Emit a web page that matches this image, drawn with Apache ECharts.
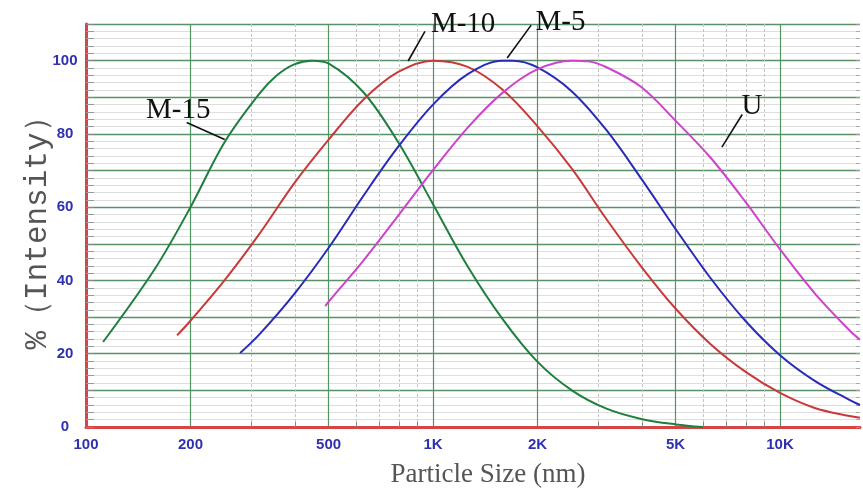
<!DOCTYPE html>
<html>
<head>
<meta charset="utf-8">
<script src="https://cdn.jsdelivr.net/npm/echarts@6/dist/echarts.min.js"></script>
<style>html,body{margin:0;padding:0;background:#fff}#c{width:863px;height:493px}</style>
</head>
<body>
<div id="c"></div>
<script>
// ---- data (x in nm, y in % intensity) ----
const xMajor = [200, 500, 1000, 2000, 5000, 10000];
const xMinor = [300, 400, 600, 700, 800, 900, 3000, 4000, 6000, 7000, 8000, 9000];
const xLabels = [100, 200, 500, 1000, 2000, 5000, 10000];
const yLabels = [0, 20, 40, 60, 80, 100];

const m15 = [[112,23.2],[158,43.2],[200,60],[251,77.8],[316,91],[355,96],[398,99],[447,100],[501,99.2],[631,91.3],[794,77.7],[1000,60.8],[1259,43.8],[1585,29.5],[1995,17.9],[2512,10],[3162,5],[3981,2.2],[5012,0.7],[6000,0]];
const m10 = [[183,25],[200,29],[251,40.1],[316,52.7],[398,66.5],[501,78.5],[631,89.4],[794,96.9],[1000,100],[1259,98.3],[1585,92.1],[1995,82.2],[2512,70.5],[3162,56.7],[3981,43.8],[5012,32.2],[6310,22.6],[7943,15.1],[10000,9.3],[12589,5.2],[15849,3],[17000,2.5]];
const m5 = [[278,20.2],[316,25.3],[398,36.3],[501,49],[631,63.2],[794,76.5],[1000,88],[1259,96.3],[1585,100],[1700,100],[1995,98.2],[2512,91.6],[3162,81],[3981,67.8],[5012,53.9],[6310,40.6],[7943,29],[10000,19.6],[12589,12.6],[15849,7.4],[17000,6]];
const u = [[489,33],[501,34.3],[631,45.5],[794,57.7],[1000,70.1],[1259,81.7],[1585,91.2],[1995,97.6],[2512,100],[2800,99.8],[3162,98.2],[3981,92.8],[5012,83.5],[6310,73.5],[7943,61.5],[10000,48.5],[12589,36.5],[15849,26.4],[17000,23.8]];

// annotation anchors (data coordinates)
const names = ['M-15', 'M-10', 'M-5', 'U'];
const labelPos = [[184.5, 86.5], [1221, 109.8], [2330, 109.9], [8300, 87.6]];
const leaderFrom = [[195, 83.1], [948, 108], [1918, 109.7], [7780, 85.3]];
const leaderTo = [[251, 78.5], [848, 99.9], [1636, 100.7], [6800, 76.4]];

const colors = ['#1f7f3f', '#c83a3a', '#2a2ab8', '#cc44cc'];
const seriesData = [m15, m10, m5, u];

const labelFont = {color: '#3030b0', fontFamily: 'Liberation Sans Narrow, Liberation Sans, sans-serif', fontWeight: 'bold', fontSize: 15};

const chart = echarts.init(document.getElementById('c'), null, {renderer: 'canvas'});
chart.setOption({
  animation: false,
  backgroundColor: '#fff',
  grid: {left: 86, right: 3, top: 24, bottom: 61, containLabel: false},
  xAxis: [{
    type: 'log', min: 100, max: 17000, position: 'bottom',
    name: 'Particle Size (nm)', nameLocation: 'middle', nameGap: 34, nameMoveOverlap: false,
    nameTextStyle: {fontFamily: 'Liberation Serif, serif', fontSize: 27, color: '#555', padding: [0, 0, 0, 30]},
    axisLine: {show: true, lineStyle: {color: '#d64545', width: 3}},
    axisTick: {show: true, inside: true, length: 5, customValues: xMinor, lineStyle: {color: '#888', width: 1}},
    minorTick: {show: false},
    axisLabel: Object.assign({customValues: xLabels, margin: 10,
      formatter: v => v >= 1000 ? (v / 1000) + 'K' : String(v)}, labelFont),
    splitLine: {show: true, lineStyle: {color: '#c4c4c4', width: 1, type: [3, 2]}}
  }, {
    type: 'log', min: 100, max: 17000, position: 'top',
    axisLine: {show: true, lineStyle: {color: '#d64545', width: 2}},
    axisTick: {show: false, customValues: xMajor},
    axisLabel: {show: false},
    splitLine: {show: true, lineStyle: {color: '#4f9660', width: 1.2}}
  }],
  yAxis: [{
    type: 'value', min: 0, max: 110, interval: 10,
    name: '%（Intensity）', nameLocation: 'middle', nameGap: 33, nameMoveOverlap: false,
    nameTextStyle: {fontFamily: 'Liberation Mono, monospace', fontSize: 31, color: '#555'},
    axisLine: {show: true, lineStyle: {color: '#d64545', width: 3}},
    axisTick: {show: true, inside: true, length: 8, lineStyle: {color: '#888'}},
    minorTick: {show: true, splitNumber: 5, length: 8, lineStyle: {color: '#999'}},
    axisLabel: Object.assign({align: 'center', margin: 21,
      formatter: v => yLabels.indexOf(v) >= 0 ? String(v) : ''}, labelFont),
    splitLine: {show: true, lineStyle: {color: '#5a8f68', width: 1.3}},
    minorSplitLine: {show: true, lineStyle: {color: '#dedede', width: 1}}
  }, {
    type: 'value', min: 0, max: 110, interval: 10, position: 'right',
    axisLine: {show: false},
    axisTick: {show: true, inside: true, length: 4, lineStyle: {color: '#999'}},
    minorTick: {show: true, splitNumber: 5, length: 4, lineStyle: {color: '#aaa'}},
    axisLabel: {show: false},
    splitLine: {show: false}
  }],
  series: seriesData.map((d, i) => ({
    type: 'line', name: names[i], xAxisIndex: 0, yAxisIndex: 0,
    data: d, showSymbol: false, smooth: 0.35, clip: true,
    lineStyle: {color: colors[i], width: 2},
    itemStyle: {color: colors[i]},
    markPoint: {
      symbol: 'rect', symbolSize: [1, 1], itemStyle: {color: 'rgba(0,0,0,0)'},
      label: {show: true, position: 'inside', formatter: names[i], color: '#111',
        fontFamily: 'Liberation Serif, serif', fontSize: 29, offset: [0, i === 2 ? -2 : 0]},
      data: [{coord: labelPos[i]}]
    },
    markLine: {
      silent: true, symbol: ['none', 'none'],
      lineStyle: {color: '#111', width: 1.6, type: 'solid'},
      label: {show: false},
      data: [[{coord: leaderFrom[i]}, {coord: leaderTo[i]}]]
    }
  }))
});
</script>
</body>
</html>
